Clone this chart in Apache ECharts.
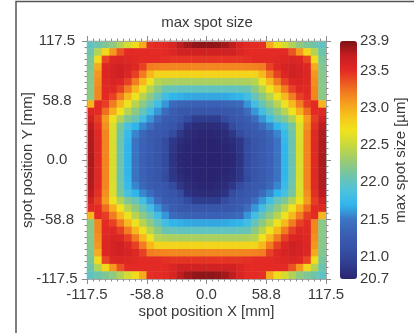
<!DOCTYPE html>
<html>
<head>
    <meta charset="UTF-8">
    <title>max spot size</title>
    <script src="https://cdn.jsdelivr.net/npm/echarts@6.0.0/dist/echarts.min.js"></script>
    <style>
        html, body { margin: 0; padding: 0; background: #fff; }
        #main { width: 414px; height: 333px; }
    </style>
</head>
<body>
    <div id="main"></div>

    <script>
        // spot position axes [mm]: limits and major step (labels shown with one decimal)
        var posLimit = 117.5;
        var posStep = 58.75;

        // colour bar range and its labels [µm]
        var sizeMin = 20.7;
        var sizeMax = 23.9;
        var colorTicks = [20.7, 21.0, 21.5, 22.0, 22.5, 23.0, 23.5, 23.9];

        // max spot size [µm], 32 x 32 cells, rows from top (Y = +117.5) to bottom,
        // columns from left (X = -117.5) to right
        var spotSize = [
            [21.99, 22.08, 22.16, 22.24, 22.4, 22.56, 22.74, 23.0, 23.48, 23.5, 23.51, 23.58, 23.72, 23.8, 23.84, 23.85, 23.85, 23.84, 23.8, 23.72, 23.58, 23.51, 23.5, 23.48, 23.0, 22.74, 22.56, 22.4, 22.24, 22.16, 22.08, 21.99],
            [22.07, 22.41, 22.77, 23.09, 23.36, 23.5, 23.5, 23.5, 23.5, 23.5, 23.51, 23.56, 23.63, 23.63, 23.63, 23.63, 23.63, 23.63, 23.63, 23.63, 23.56, 23.51, 23.5, 23.5, 23.5, 23.5, 23.5, 23.36, 23.09, 22.77, 22.41, 22.07],
            [22.14, 22.74, 23.41, 23.55, 23.57, 23.55, 23.52, 23.5, 23.5, 23.5, 23.48, 23.47, 23.47, 23.47, 23.47, 23.47, 23.47, 23.47, 23.47, 23.47, 23.47, 23.48, 23.5, 23.5, 23.5, 23.52, 23.55, 23.57, 23.55, 23.41, 22.74, 22.14],
            [22.18, 23.0, 23.55, 23.6, 23.63, 23.6, 23.54, 23.42, 23.2, 23.18, 23.17, 23.16, 23.16, 23.16, 23.16, 23.16, 23.16, 23.16, 23.16, 23.16, 23.16, 23.17, 23.18, 23.2, 23.42, 23.54, 23.6, 23.63, 23.6, 23.55, 23.0, 22.18],
            [22.2, 23.1, 23.56, 23.62, 23.65, 23.56, 23.42, 23.2, 22.94, 22.79, 22.79, 22.79, 22.79, 22.79, 22.79, 22.79, 22.79, 22.79, 22.79, 22.79, 22.79, 22.79, 22.79, 22.94, 23.2, 23.42, 23.56, 23.65, 23.62, 23.56, 23.1, 22.2],
            [22.21, 23.13, 23.54, 23.58, 23.56, 23.42, 23.2, 22.94, 22.68, 22.42, 22.38, 22.36, 22.36, 22.36, 22.36, 22.36, 22.36, 22.36, 22.36, 22.36, 22.36, 22.38, 22.42, 22.68, 22.94, 23.2, 23.42, 23.56, 23.58, 23.54, 23.13, 22.21],
            [22.22, 23.16, 23.52, 23.54, 23.42, 23.2, 22.94, 22.68, 22.42, 22.23, 22.05, 22.03, 22.0, 22.0, 22.0, 22.0, 22.0, 22.0, 22.0, 22.0, 22.03, 22.05, 22.23, 22.42, 22.68, 22.94, 23.2, 23.42, 23.54, 23.52, 23.16, 22.22],
            [22.22, 23.16, 23.5, 23.42, 23.2, 22.94, 22.68, 22.42, 22.23, 22.03, 21.82, 21.7, 21.68, 21.66, 21.65, 21.65, 21.65, 21.65, 21.66, 21.68, 21.7, 21.82, 22.03, 22.23, 22.42, 22.68, 22.94, 23.2, 23.42, 23.5, 23.16, 22.22],
            [22.95, 23.5, 23.43, 23.2, 22.94, 22.68, 22.42, 22.23, 22.04, 21.82, 21.6, 21.4, 21.37, 21.34, 21.33, 21.33, 21.33, 21.33, 21.34, 21.37, 21.4, 21.6, 21.82, 22.04, 22.23, 22.42, 22.68, 22.94, 23.2, 23.43, 23.5, 22.95],
            [23.54, 23.5, 23.26, 22.98, 22.7, 22.42, 22.23, 22.03, 21.82, 21.6, 21.42, 21.29, 21.21, 21.19, 21.17, 21.17, 21.17, 21.17, 21.19, 21.21, 21.29, 21.42, 21.6, 21.82, 22.03, 22.23, 22.42, 22.7, 22.98, 23.26, 23.5, 23.54],
            [23.63, 23.43, 23.07, 22.68, 22.4, 22.17, 22.04, 21.82, 21.6, 21.42, 21.29, 21.22, 21.16, 21.05, 20.9, 20.9, 20.9, 20.9, 21.05, 21.16, 21.22, 21.29, 21.42, 21.6, 21.82, 22.04, 22.17, 22.4, 22.68, 23.07, 23.43, 23.63],
            [23.73, 23.48, 23.12, 22.59, 22.14, 21.85, 21.7, 21.56, 21.42, 21.29, 21.22, 21.16, 21.04, 20.82, 20.77, 20.76, 20.76, 20.77, 20.82, 21.04, 21.16, 21.22, 21.29, 21.42, 21.56, 21.7, 21.85, 22.14, 22.59, 23.12, 23.48, 23.73],
            [23.76, 23.52, 23.17, 22.59, 22.1, 21.76, 21.55, 21.38, 21.27, 21.22, 21.16, 21.04, 20.86, 20.76, 20.73, 20.72, 20.72, 20.73, 20.76, 20.86, 21.04, 21.16, 21.22, 21.27, 21.38, 21.55, 21.76, 22.1, 22.59, 23.17, 23.52, 23.76],
            [23.76, 23.52, 23.17, 22.58, 22.07, 21.72, 21.48, 21.34, 21.24, 21.17, 21.05, 20.86, 20.78, 20.74, 20.71, 20.7, 20.7, 20.71, 20.74, 20.78, 20.86, 21.05, 21.17, 21.24, 21.34, 21.48, 21.72, 22.07, 22.58, 23.17, 23.52, 23.76],
            [23.76, 23.52, 23.17, 22.58, 22.07, 21.7, 21.48, 21.33, 21.24, 21.17, 21.07, 20.84, 20.75, 20.72, 20.71, 20.7, 20.7, 20.71, 20.72, 20.75, 20.84, 21.07, 21.17, 21.24, 21.33, 21.48, 21.7, 22.07, 22.58, 23.17, 23.52, 23.76],
            [23.77, 23.52, 23.17, 22.58, 22.07, 21.7, 21.48, 21.33, 21.24, 21.17, 21.05, 20.83, 20.74, 20.72, 20.7, 20.7, 20.7, 20.7, 20.72, 20.74, 20.83, 21.05, 21.17, 21.24, 21.33, 21.48, 21.7, 22.07, 22.58, 23.17, 23.52, 23.77],
            [23.77, 23.52, 23.17, 22.58, 22.07, 21.7, 21.48, 21.33, 21.24, 21.17, 21.05, 20.83, 20.74, 20.72, 20.7, 20.7, 20.7, 20.7, 20.72, 20.74, 20.83, 21.05, 21.17, 21.24, 21.33, 21.48, 21.7, 22.07, 22.58, 23.17, 23.52, 23.77],
            [23.76, 23.52, 23.17, 22.58, 22.07, 21.7, 21.48, 21.33, 21.24, 21.17, 21.07, 20.84, 20.75, 20.72, 20.71, 20.7, 20.7, 20.71, 20.72, 20.75, 20.84, 21.07, 21.17, 21.24, 21.33, 21.48, 21.7, 22.07, 22.58, 23.17, 23.52, 23.76],
            [23.76, 23.52, 23.17, 22.58, 22.07, 21.72, 21.48, 21.34, 21.24, 21.17, 21.05, 20.86, 20.78, 20.74, 20.71, 20.7, 20.7, 20.71, 20.74, 20.78, 20.86, 21.05, 21.17, 21.24, 21.34, 21.48, 21.72, 22.07, 22.58, 23.17, 23.52, 23.76],
            [23.76, 23.52, 23.17, 22.59, 22.1, 21.76, 21.55, 21.38, 21.27, 21.22, 21.16, 21.04, 20.86, 20.76, 20.73, 20.72, 20.72, 20.73, 20.76, 20.86, 21.04, 21.16, 21.22, 21.27, 21.38, 21.55, 21.76, 22.1, 22.59, 23.17, 23.52, 23.76],
            [23.73, 23.48, 23.12, 22.59, 22.14, 21.85, 21.7, 21.56, 21.42, 21.29, 21.22, 21.16, 21.04, 20.82, 20.77, 20.76, 20.76, 20.77, 20.82, 21.04, 21.16, 21.22, 21.29, 21.42, 21.56, 21.7, 21.85, 22.14, 22.59, 23.12, 23.48, 23.73],
            [23.63, 23.43, 23.07, 22.68, 22.4, 22.17, 22.04, 21.82, 21.6, 21.42, 21.29, 21.22, 21.16, 21.05, 20.9, 20.9, 20.9, 20.9, 21.05, 21.16, 21.22, 21.29, 21.42, 21.6, 21.82, 22.04, 22.17, 22.4, 22.68, 23.07, 23.43, 23.63],
            [23.54, 23.5, 23.26, 22.98, 22.7, 22.42, 22.23, 22.03, 21.82, 21.6, 21.42, 21.29, 21.21, 21.19, 21.17, 21.17, 21.17, 21.17, 21.19, 21.21, 21.29, 21.42, 21.6, 21.82, 22.03, 22.23, 22.42, 22.7, 22.98, 23.26, 23.5, 23.54],
            [22.95, 23.5, 23.43, 23.2, 22.94, 22.68, 22.42, 22.23, 22.04, 21.82, 21.6, 21.4, 21.37, 21.34, 21.33, 21.33, 21.33, 21.33, 21.34, 21.37, 21.4, 21.6, 21.82, 22.04, 22.23, 22.42, 22.68, 22.94, 23.2, 23.43, 23.5, 22.95],
            [22.22, 23.16, 23.5, 23.42, 23.2, 22.94, 22.68, 22.42, 22.23, 22.03, 21.82, 21.7, 21.68, 21.66, 21.65, 21.65, 21.65, 21.65, 21.66, 21.68, 21.7, 21.82, 22.03, 22.23, 22.42, 22.68, 22.94, 23.2, 23.42, 23.5, 23.16, 22.22],
            [22.22, 23.16, 23.52, 23.54, 23.42, 23.2, 22.94, 22.68, 22.42, 22.23, 22.05, 22.03, 22.0, 22.0, 22.0, 22.0, 22.0, 22.0, 22.0, 22.0, 22.03, 22.05, 22.23, 22.42, 22.68, 22.94, 23.2, 23.42, 23.54, 23.52, 23.16, 22.22],
            [22.21, 23.13, 23.54, 23.58, 23.56, 23.42, 23.2, 22.94, 22.68, 22.42, 22.38, 22.36, 22.36, 22.36, 22.36, 22.36, 22.36, 22.36, 22.36, 22.36, 22.36, 22.38, 22.42, 22.68, 22.94, 23.2, 23.42, 23.56, 23.58, 23.54, 23.13, 22.21],
            [22.2, 23.1, 23.56, 23.62, 23.65, 23.56, 23.42, 23.2, 22.94, 22.79, 22.79, 22.79, 22.79, 22.79, 22.79, 22.79, 22.79, 22.79, 22.79, 22.79, 22.79, 22.79, 22.79, 22.94, 23.2, 23.42, 23.56, 23.65, 23.62, 23.56, 23.1, 22.2],
            [22.18, 23.0, 23.55, 23.6, 23.63, 23.6, 23.54, 23.42, 23.2, 23.18, 23.17, 23.16, 23.16, 23.16, 23.16, 23.16, 23.16, 23.16, 23.16, 23.16, 23.16, 23.17, 23.18, 23.2, 23.42, 23.54, 23.6, 23.63, 23.6, 23.55, 23.0, 22.18],
            [22.14, 22.74, 23.41, 23.55, 23.57, 23.55, 23.52, 23.5, 23.5, 23.5, 23.48, 23.47, 23.47, 23.47, 23.47, 23.47, 23.47, 23.47, 23.47, 23.47, 23.47, 23.48, 23.5, 23.5, 23.5, 23.52, 23.55, 23.57, 23.55, 23.41, 22.74, 22.14],
            [22.07, 22.41, 22.77, 23.09, 23.36, 23.5, 23.5, 23.5, 23.5, 23.5, 23.51, 23.56, 23.63, 23.63, 23.63, 23.63, 23.63, 23.63, 23.63, 23.63, 23.56, 23.51, 23.5, 23.5, 23.5, 23.5, 23.5, 23.36, 23.09, 22.77, 22.41, 22.07],
            [21.99, 22.08, 22.16, 22.24, 22.4, 22.56, 22.74, 23.0, 23.48, 23.5, 23.51, 23.58, 23.72, 23.8, 23.84, 23.85, 23.85, 23.84, 23.8, 23.72, 23.58, 23.51, 23.5, 23.48, 23.0, 22.74, 22.56, 22.4, 22.24, 22.16, 22.08, 21.99]
        ];

        // jet-like colour map, evenly spread from sizeMin to sizeMax
        var jetColors = [
            '#2a2470', '#2f3d8e', '#3651a6', '#3a5eb2', '#3b75c4', '#31b6ec',
            '#4fc3dc', '#72c4a6', '#9ccc70', '#c8d93c', '#f0e31c', '#f7c11d',
            '#f5961e', '#ee6421', '#e32a24', '#c81e22', '#7c1315'
        ];

        var chart = echarts.init(document.getElementById('main'));

        var font = 'Liberation Sans, Arial, sans-serif';
        var textColor = '#3a3a3a';
        var lineColor = '#a8a8a8';
        var tickColor = '#8c8c8c';

        // heatmap cells on category axes, bottom row first
        var nRows = spotSize.length;
        var nCols = spotSize[0].length;
        var colCats = [], rowCats = [], heatData = [];
        for (var c = 0; c < nCols; c++) colCats.push(c);
        for (var r = 0; r < nRows; r++) rowCats.push(r);
        for (var r = 0; r < nRows; r++) {
            for (var c = 0; c < nCols; c++) {
                heatData.push([c, nRows - 1 - r, spotSize[r][c]]);
            }
        }

        function fmt(v) {
            return v.toFixed(1);
        }

        // value axis for the position frame (grid 1)
        function posAxis(position, label, extra) {
            var ax = {
                type: 'value',
                gridIndex: 1,
                position: position,
                min: -posLimit,
                max: posLimit,
                interval: posStep,
                z: 10,
                axisLine: { show: true, onZero: false, lineStyle: { color: lineColor, width: 1 } },
                axisTick: { show: true, length: 5, lineStyle: { color: tickColor, width: 1 } },
                minorTick: { show: true, splitNumber: 10, length: 2.5, lineStyle: { color: tickColor, width: 1 } },
                splitLine: { show: false },
                minorSplitLine: { show: false },
                axisLabel: label || { show: false }
            };
            for (var k in extra) ax[k] = extra[k];
            return ax;
        }

        var nameStyle = { fontSize: 15, fontFamily: font, color: textColor };

        var option = {
            animation: false,
            backgroundColor: '#ffffff',
            textStyle: { fontFamily: font },
            title: {
                text: 'max spot size',
                left: 'center',
                top: 15,
                padding: 0,
                textStyle: { fontSize: 15, fontWeight: 'normal', color: textColor, fontFamily: font }
            },
            grid: [
                { left: 87, top: 41, width: 239, height: 238, outerBoundsMode: 'none' },
                { left: 87, top: 41, width: 239, height: 238, outerBoundsMode: 'none' },
                { left: 340, top: 41, width: 17, height: 238, outerBoundsMode: 'none' }
            ],
            xAxis: [
                { type: 'category', gridIndex: 0, data: colCats, show: false },
                posAxis('bottom', {
                    formatter: fmt, margin: 8, fontSize: 15, fontFamily: font, color: textColor
                }, {
                    name: 'spot position X [mm]',
                    nameLocation: 'middle',
                    nameGap: 25,
                    nameMoveOverlap: false,
                    nameTextStyle: nameStyle
                }),
                posAxis('top', null, {}),
                { type: 'value', gridIndex: 2, show: false, min: 0, max: 1 }
            ],
            yAxis: [
                { type: 'category', gridIndex: 0, data: rowCats, show: false },
                posAxis('left', {
                    formatter: fmt, margin: 30, align: 'center', fontSize: 15, fontFamily: font, color: textColor
                }, {
                    name: 'spot position Y [mm]',
                    nameLocation: 'middle',
                    nameGap: 52,
                    nameMoveOverlap: false,
                    nameTextStyle: nameStyle
                }),
                posAxis('right', null, {}),
                {
                    type: 'value',
                    gridIndex: 2,
                    position: 'right',
                    min: sizeMin,
                    max: sizeMax,
                    axisLine: { show: false, onZero: false },
                    axisTick: { show: false },
                    splitLine: { show: false },
                    axisLabel: {
                        customValues: colorTicks,
                        formatter: fmt,
                        margin: 3,
                        fontSize: 15,
                        fontFamily: font,
                        color: textColor
                    },
                    name: 'max spot size [µm]',
                    nameLocation: 'middle',
                    nameGap: 36,
                    nameMoveOverlap: false,
                    nameTextStyle: nameStyle
                }
            ],
            visualMap: {
                type: 'continuous',
                min: sizeMin,
                max: sizeMax,
                dimension: 2,
                seriesIndex: 0,
                calculable: false,
                hoverLink: false,
                left: 340,
                top: 41,
                padding: 0,
                itemWidth: 17,
                itemHeight: 238,
                inRange: { color: jetColors }
            },
            graphic: [{
                type: 'polyline',
                silent: true,
                shape: { points: [[16, 333], [16, 1.5], [414, 1.5]] },
                style: { stroke: '#555555', lineWidth: 1.5, fill: null }
            }],
            series: [{
                type: 'heatmap',
                xAxisIndex: 0,
                yAxisIndex: 0,
                data: heatData,
                itemStyle: { borderWidth: 0 },
                emphasis: { disabled: true }
            }]
        };

        chart.setOption(option);
    </script>
</body>
</html>
